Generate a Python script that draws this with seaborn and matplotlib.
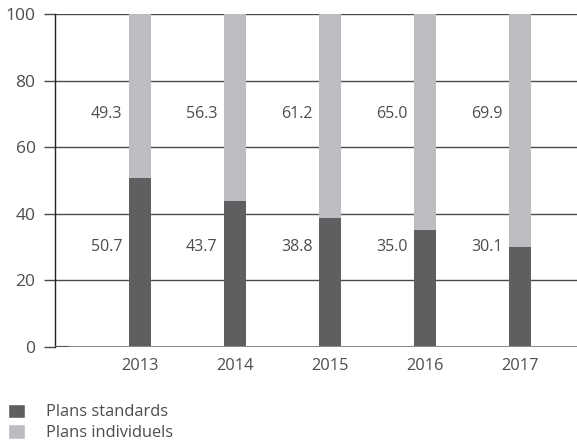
import pandas as pd
import matplotlib.pyplot as plt
import seaborn as sns
from matplotlib.patches import Patch

# values
years = ['2013', '2014', '2015', '2016', '2017']
standards = [50.7, 43.7, 38.8, 35.0, 30.1]
individuels = [49.3, 56.3, 61.2, 65.0, 69.9]

dark = '#5f5f61'
light = '#bcbdc0'
txt = '#4d4d4d'

sns.set_theme(style='white')
plt.rcParams['font.family'] = ['Open Sans', 'DejaVu Sans']

df = pd.DataFrame({'year': years, 'std': standards, 'ind': individuels})
df['total'] = df['std'] + df['ind']

fig = plt.figure(figsize=(5.77, 4.44), dpi=100)
ax = fig.add_axes([55 / 577, 1 - 347 / 444, 1 - 55 / 577, 333 / 444])

w = 0.23
sns.barplot(data=df, x='year', y='total', color=light, width=w, saturation=1,
            linewidth=0, ax=ax, zorder=3)
sns.barplot(data=df, x='year', y='std', color=dark, width=w, saturation=1,
            linewidth=0, ax=ax, zorder=3)

# value labels to the left of each bar, centred between gridlines
for i, row in df.iterrows():
    xl = i - w / 2 - 0.07
    ax.text(xl, 30, f"{row['std']:.1f}", ha='right', va='center', fontsize=11.5, color=txt)
    ax.text(xl, 70, f"{row['ind']:.1f}", ha='right', va='center', fontsize=11.5, color=txt)

ax.set_ylim(0, 100)
ax.set_xlim(-0.895, 4.6)
ax.set_yticks([0, 20, 40, 60, 80, 100])
ax.yaxis.grid(True, color='#4a4a4a', linewidth=1)
ax.set_axisbelow(True)

for s in ['top', 'right', 'bottom']:
    ax.spines[s].set_visible(False)
ax.spines['left'].set_color('#222222')
ax.spines['left'].set_linewidth(1)
ax.axhline(0, color='#8a8a8a', linewidth=1.5, zorder=4)
ax.plot([-0.89, -0.76], [0, 0], color='#555555', linewidth=1.5, zorder=5)

ax.tick_params(axis='y', length=8, width=1, color='#4a4a4a', labelsize=12.5, labelcolor=txt, pad=6, left=True)
ax.tick_params(axis='x', length=0, labelsize=11.8, labelcolor=txt, pad=8)
ax.set_xlabel('')
ax.set_ylabel('')

handles = [Patch(facecolor=dark, label='Plans standards'),
           Patch(facecolor=light, label='Plans individuels')]
fig.legend(handles=handles, loc='lower left', bbox_to_anchor=(8 / 577, 3 / 444), frameon=False,
           borderpad=0, borderaxespad=0,
           fontsize=11.8, labelcolor=txt, handlelength=1.04, handleheight=1.0,
           handletextpad=1.3, labelspacing=0.22)

fig.savefig('out.png', dpi=100)
